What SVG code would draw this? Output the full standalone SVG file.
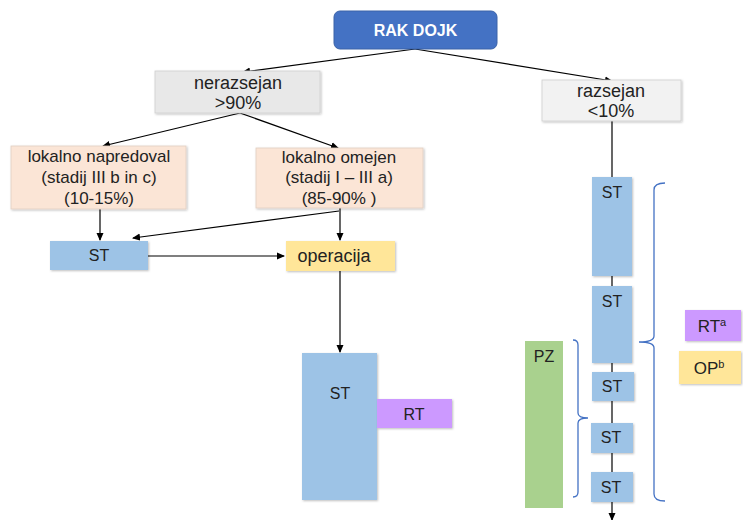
<svg xmlns="http://www.w3.org/2000/svg" width="743" height="520" viewBox="0 0 743 520">
<defs>
<marker id="arr" markerWidth="8" markerHeight="8" refX="7" refY="4" orient="auto" markerUnits="userSpaceOnUse">
<path d="M0,0.5 L8,4 L0,7.5 Z" fill="#000"/>
</marker>
<filter id="sh" x="-10%" y="-10%" width="125%" height="125%">
<feDropShadow dx="1" dy="1" stdDeviation="1" flood-color="#000" flood-opacity="0.25"/>
</filter>
<style>
text{font-family:"Liberation Sans","Open Sans",Arial,sans-serif;font-size:16px;fill:#222;text-anchor:middle}
.big{font-size:17px}
.ln{stroke:#000;stroke-width:1.2;fill:none}
.br{stroke:#4472C4;stroke-width:1.3;fill:none}
.st{fill:#9DC3E6;filter:url(#sh)}
.rt{fill:#CC99FF;filter:url(#sh)}
.op{fill:#FFE699;filter:url(#sh)}
.pk{fill:#FBE5D6;stroke:#e0cfc2;stroke-width:0.8;filter:url(#sh)}
.gy{fill:#E8E8E8;stroke:#cfcfcf;stroke-width:0.8;filter:url(#sh)}
</style>
</defs>
<rect width="743" height="520" fill="#fff"/>
<g id="connectors">
<line class="ln" x1="415" y1="49" x2="243" y2="72" marker-end="url(#arr)"/>
<line class="ln" x1="415" y1="49" x2="612" y2="81" marker-end="url(#arr)"/>
<line class="ln" x1="240" y1="113" x2="103" y2="146" marker-end="url(#arr)"/>
<line class="ln" x1="240" y1="113" x2="338" y2="148" marker-end="url(#arr)"/>
<line class="ln" x1="100" y1="209" x2="100" y2="240" marker-end="url(#arr)"/>
<line class="ln" x1="340" y1="208" x2="340" y2="240" marker-end="url(#arr)"/>
<line class="ln" x1="339" y1="211" x2="133" y2="238" marker-end="url(#arr)"/>
<line class="ln" x1="148" y1="256" x2="284" y2="256" marker-end="url(#arr)"/>
<line class="ln" x1="340" y1="271" x2="340" y2="352" marker-end="url(#arr)"/>
<line class="ln" x1="612" y1="121" x2="612" y2="177"/>
<line class="ln" x1="612" y1="276" x2="612" y2="286"/>
<line class="ln" x1="612" y1="363" x2="612" y2="372"/>
<line class="ln" x1="612" y1="401" x2="612" y2="423"/>
<line class="ln" x1="612" y1="453" x2="612" y2="472"/>
<line class="ln" x1="612" y1="502" x2="612" y2="520" marker-end="url(#arr)"/>
</g>
<g id="rak-dojk">
<rect x="334" y="11" width="163" height="38" rx="6" fill="#4472C4" stroke="#3a62a8" stroke-width="1"/>
<text x="415.5" y="36" style="fill:#fff;font-weight:bold;font-size:16px">RAK DOJK</text>
</g>
<g id="nerazsejan">
<rect class="gy" x="155" y="71" width="165" height="42"/>
<text x="238" y="89" style="font-size:18px">nerazsejan</text>
<text x="238" y="109" style="font-size:18px">&gt;90%</text>
</g>
<g id="razsejan">
<rect class="gy" x="542" y="80" width="139" height="41" style="fill:#F2F2F2"/>
<text x="611" y="97" style="font-size:18px">razsejan</text>
<text x="611" y="117" style="font-size:18px">&lt;10%</text>
</g>
<g id="lokalno-napredoval">
<rect class="pk" x="11" y="146" width="175" height="63"/>
<text class="big" x="99" y="162">lokalno napredoval</text>
<text class="big" x="99" y="183">(stadij III b in c)</text>
<text class="big" x="99" y="204">(10-15%)</text>
</g>
<g id="lokalno-omejen">
<rect class="pk" x="256" y="148" width="167" height="60"/>
<text class="big" x="339" y="163">lokalno omejen</text>
<text class="big" x="339" y="183">(stadij I – III a)</text>
<text class="big" x="339" y="204">(85-90% )</text>
</g>
<g id="st-left">
<rect class="st" x="50" y="241" width="98" height="29"/>
<text x="99" y="261">ST</text>
</g>
<g id="operacija">
<rect class="op" x="286" y="241" width="109" height="30"/>
<text x="334" y="262" style="font-size:18px">operacija</text>
</g>
<g id="st-big">
<rect class="st" x="302" y="353" width="75" height="147"/>
<text x="340" y="399">ST</text>
</g>
<g id="rt">
<rect class="rt" x="377" y="399" width="75" height="29"/>
<text x="414" y="420">RT</text>
</g>
<g id="st-r1">
<rect class="st" x="592" y="177" width="40" height="99"/>
<text x="612" y="198">ST</text>
</g>
<g id="st-r2">
<rect class="st" x="592" y="286" width="40" height="77"/>
<text x="612" y="307">ST</text>
</g>
<g id="st-r3">
<rect class="st" x="592" y="372" width="42" height="29"/>
<text x="612" y="392">ST</text>
</g>
<g id="st-r4">
<rect class="st" x="591" y="423" width="42" height="30"/>
<text x="611" y="443">ST</text>
</g>
<g id="st-r5">
<rect class="st" x="591" y="472" width="42" height="30"/>
<text x="611" y="493">ST</text>
</g>
<g id="pz">
<rect x="525" y="341" width="38" height="167" fill="#A9D18E"/>
<text x="544" y="362">PZ</text>
</g>
<g id="brace-pz">
<path class="br" d="M573,340 Q578,340 578,345 L578,413 Q578,418 588,418 Q578,418 578,423 L578,492 Q578,497 573,497"/>
</g>
<g id="brace-right">
<path class="br" d="M665,183 Q654,183 654,190 L654,336 Q654,342 639,342 Q654,342 654,348 L654,494 Q654,501 665,501"/>
</g>
<g id="rta">
<rect class="rt" x="685" y="310" width="56" height="31"/>
<text x="712" y="332" style="font-size:17px">RT<tspan dy="-6" style="font-size:11px">a</tspan></text>
</g>
<g id="opb">
<rect class="op" x="679" y="351" width="62" height="33"/>
<text x="709" y="374" style="font-size:17px">OP<tspan dy="-6" style="font-size:11px">b</tspan></text>
</g>
</svg>
